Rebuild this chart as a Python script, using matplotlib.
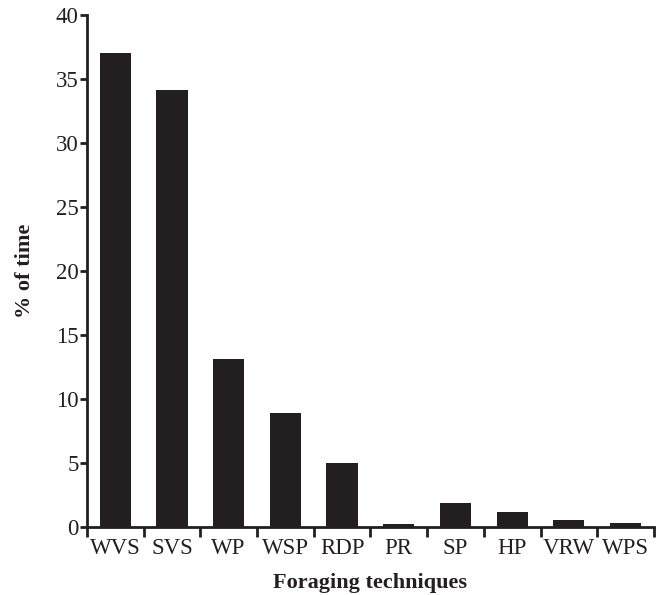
import matplotlib
matplotlib.use("Agg")
import matplotlib.pyplot as plt
import numpy as np
from matplotlib.ticker import FixedLocator

categories = ["WVS", "SVS", "WP", "WSP", "RDP", "PR", "SP", "HP", "VRW", "WPS"]
values = [37.0, 34.1, 13.1, 8.9, 5.0, 0.25, 1.9, 1.15, 0.55, 0.3]
y_ticks = [0, 5, 10, 15, 20, 25, 30, 35, 40]

plt.rcParams['font.family'] = ['Liberation Serif', 'DejaVu Serif']
dark = '#231f20'

fig = plt.figure(figsize=(6.68, 5.95), dpi=100)
ax = fig.add_axes([0.130, 0.114, 0.849, 0.861])

x = np.arange(len(categories))
ax.bar(x, values, width=0.55, color=dark, zorder=3)

ax.set_xlim(-0.5, len(categories) - 0.5)
ax.set_ylim(0, 40)
ax.set_yticks(y_ticks)
ax.set_yticklabels([str(t) for t in y_ticks])

ax.set_xticks(x)
ax.set_xticklabels(categories)
ax.xaxis.set_minor_locator(FixedLocator(np.arange(-0.5, len(categories), 1.0)))
ax.tick_params(axis='x', which='major', length=0, pad=8, labelsize=16.5, colors=dark)
ax.tick_params(axis='x', which='minor', length=7, width=2, direction='out', color=dark)
ax.tick_params(axis='y', which='major', length=5, width=2, direction='out', labelsize=16.5, colors=dark, pad=1)

for s in ['top', 'right']:
    ax.spines[s].set_visible(False)
for s in ['left', 'bottom']:
    ax.spines[s].set_linewidth(2)
    ax.spines[s].set_color(dark)

ax.set_xlabel("Foraging techniques", fontsize=16, fontweight='bold', color=dark, labelpad=10)
ax.set_ylabel("% of time", fontsize=16, fontweight='bold', color=dark, labelpad=15)

fig.savefig("out.png", dpi=100)
